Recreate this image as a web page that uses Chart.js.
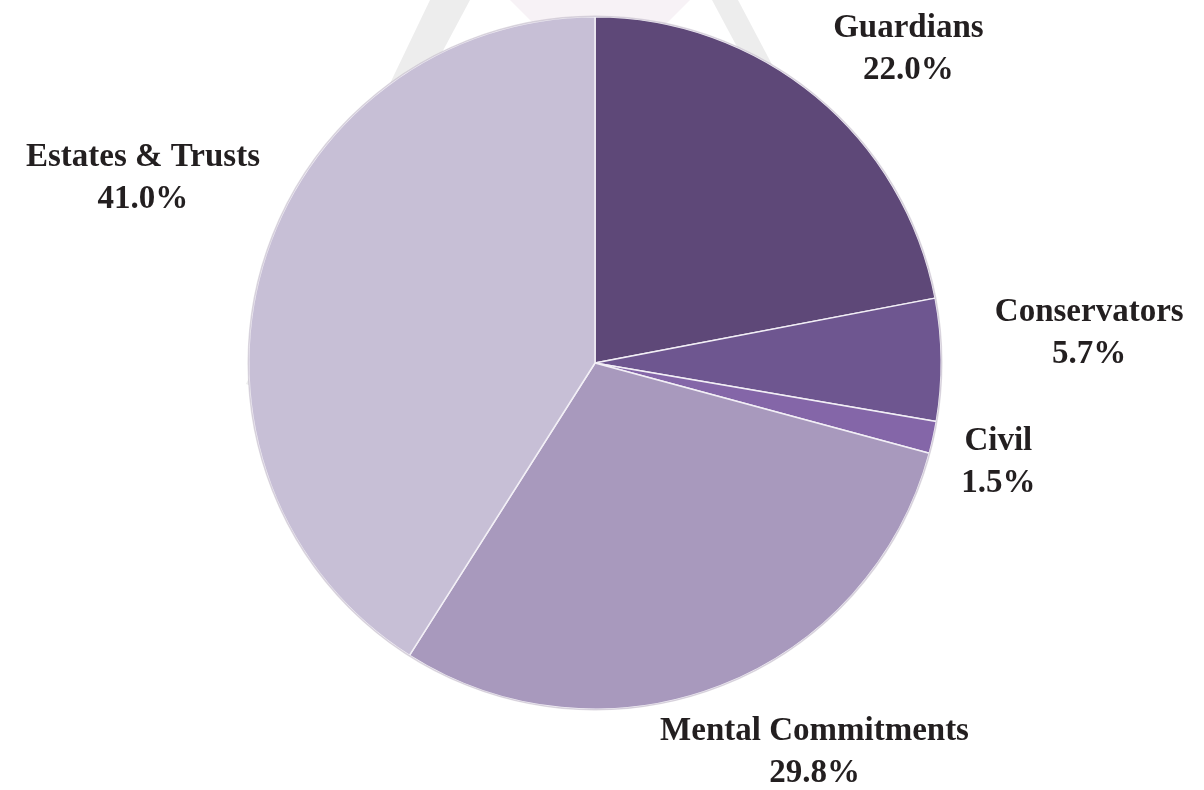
<!DOCTYPE html>
<html>
<head>
<meta charset="utf-8">
<script src="https://cdn.jsdelivr.net/npm/chart.js@4"></script>
<style>
  html, body { margin: 0; padding: 0; background: #ffffff; }
  #wrap { width: 1204px; height: 790px; position: relative; }
</style>
</head>
<body>
<div id="wrap"><canvas id="pie" width="1204" height="790"></canvas></div>
<script>
var categories = ['Guardians', 'Conservators', 'Civil', 'Mental Commitments', 'Estates & Trusts'];
var shares = [22.0, 5.7, 1.5, 29.8, 41.0];
var sliceColors = ['#5e4878', '#6e5690', '#8466a8', '#a899bd', '#c7bfd6'];

// label placement: distance as a fraction of radius, angle nudge in degrees
var labelPlace = [
    [1.28, 5.4],
    [1.43, -2.9],
    [1.20, 1.5],
    [1.29, -8.2],
    [1.41, 6.0]
];

var watermark = {
    id: 'watermark',
    beforeDraw: function (chart) {
        var ctx = chart.ctx;
        ctx.save();
        ctx.fillStyle = '#ededed';
        ctx.beginPath();
        ctx.moveTo(430, 0); ctx.lineTo(470, 0); ctx.lineTo(262, 390); ctx.lineTo(246, 384);
        ctx.closePath(); ctx.fill();
        ctx.fillStyle = '#f7f2f6';
        ctx.beginPath();
        ctx.moveTo(510, 0); ctx.lineTo(690, 0); ctx.lineTo(660, 30); ctx.lineTo(540, 30);
        ctx.closePath(); ctx.fill();
        ctx.fillStyle = '#ededed';
        ctx.beginPath();
        ctx.moveTo(712, 0); ctx.lineTo(738, 0); ctx.lineTo(796, 110); ctx.lineTo(774, 116);
        ctx.closePath(); ctx.fill();
        ctx.restore();
    },
    afterDatasetsDraw: function (chart) {
        var arc = chart.getDatasetMeta(0).data[0];
        var ctx = chart.ctx;
        ctx.save();
        ctx.strokeStyle = 'rgba(160,150,170,0.35)';
        ctx.lineWidth = 1.5;
        ctx.beginPath();
        ctx.arc(arc.x, arc.y, arc.outerRadius + 0.5, 0, Math.PI * 2);
        ctx.stroke();
        ctx.restore();
    }
};

var sliceLabels = {
    id: 'sliceLabels',
    afterDraw: function (chart) {
        var ctx = chart.ctx;
        var meta = chart.getDatasetMeta(0);
        ctx.save();
        ctx.font = 'bold 33px "Liberation Serif", serif';
        ctx.fillStyle = '#231f20';
        ctx.textAlign = 'center';
        ctx.textBaseline = 'middle';
        meta.data.forEach(function (arc, i) {
            var p = arc.getProps(['x', 'y', 'startAngle', 'endAngle', 'outerRadius'], true);
            var mid = (p.startAngle + p.endAngle) / 2 + labelPlace[i][1] * Math.PI / 180;
            var r = p.outerRadius * labelPlace[i][0];
            var lx = p.x + Math.cos(mid) * r;
            var ly = p.y + Math.sin(mid) * r;
            ctx.fillText(categories[i], lx, ly - 21);
            ctx.fillText(shares[i].toFixed(1) + '%', lx, ly + 21);
        });
        ctx.restore();
    }
};

var config = {
    type: 'pie',
    data: {
        labels: categories,
        datasets: [{
            data: shares,
            backgroundColor: sliceColors,
            borderColor: '#f2eff6',
            borderWidth: 1.5
        }]
    },
    options: {
        responsive: false,
        animation: false,
        layout: {
            padding: { top: 16, bottom: 80, left: 200, right: 214 }
        },
        plugins: {
            legend: { display: false },
            tooltip: { enabled: false }
        }
    },
    plugins: [watermark, sliceLabels]
};

window.onload = function () {
    var ctx = document.getElementById('pie').getContext('2d');
    window.myPie = new Chart(ctx, config);
};
</script>
</body>
</html>
